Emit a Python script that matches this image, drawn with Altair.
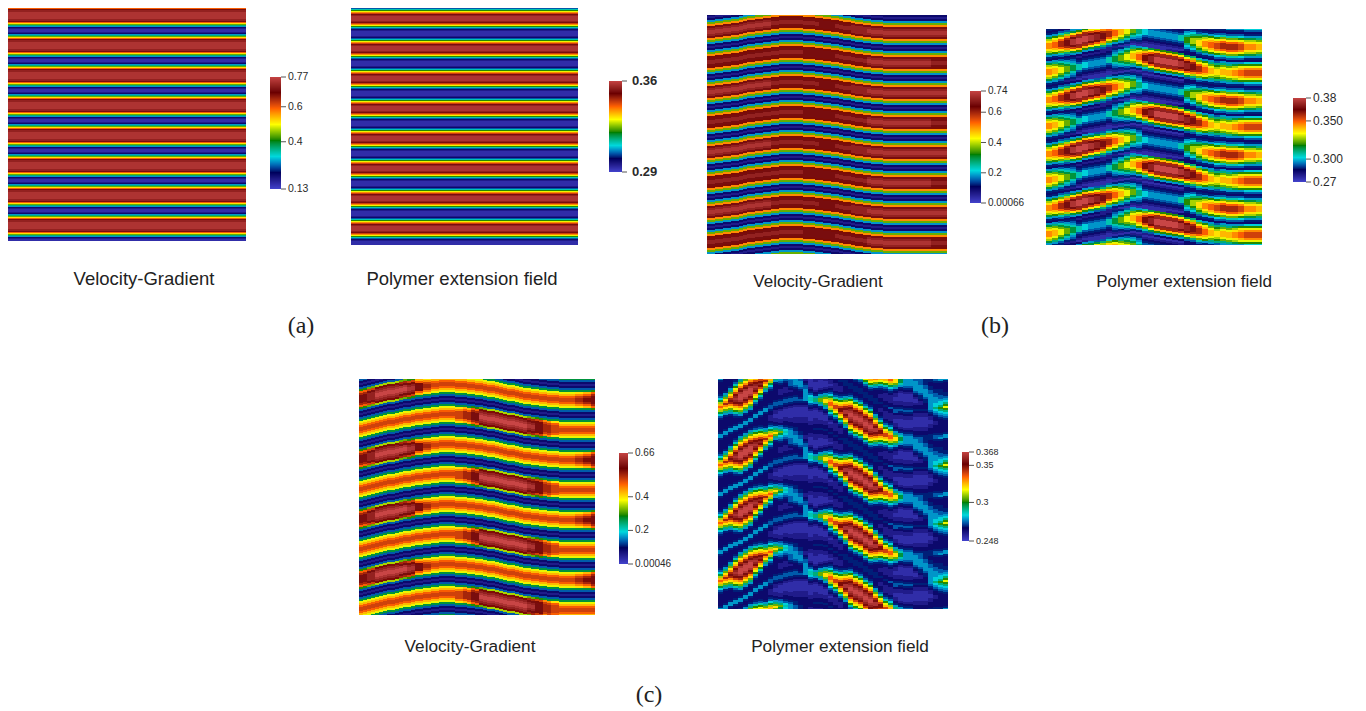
import altair as alt
import pandas as pd

alt.data_transformers.disable_max_rows()

LETTERS = "abcdefghijklmnopqrstuvwxyz"
STOPS = ["#4040c8", "#00005c", "#00d8dc", "#008000", "#ffff00", "#ff6100", "#6b0000", "#c84545"]

# ---- captions and colour-bar labels
caption_vel = "Velocity-Gradient"
caption_pol = "Polymer extension field"
sub_labels = ["(a)", "(b)", "(c)"]

bar_a_vel_vals = [0.77, 0.6, 0.4, 0.13]
bar_a_vel_txt = ["0.77", "0.6", "0.4", "0.13"]
bar_a_pol_vals = [0.36, 0.29]
bar_a_pol_txt = ["0.36", "0.29"]
bar_b_vel_vals = [0.74, 0.6, 0.4, 0.2, 0.00066]
bar_b_vel_txt = ["0.74", "0.6", "0.4", "0.2", "0.00066"]
bar_b_pol_vals = [0.38, 0.35, 0.30, 0.27]
bar_b_pol_txt = ["0.38", "0.350", "0.300", "0.27"]
bar_c_vel_vals = [0.66, 0.4, 0.2, 0.00046]
bar_c_vel_txt = ["0.66", "0.4", "0.2", "0.00046"]
bar_c_pol_vals = [0.368, 0.35, 0.3, 0.248]
bar_c_pol_txt = ["0.368", "0.35", "0.3", "0.248"]

# ---- field levels, a = lowest ... z = highest
vel_a_profile = "bbcdgjmpswxxyyyyyyyxxwspmjgdcb"
pol_a_profile = "bbbcdfilortwxyyyyyxwtrolifdcbb"

vel_b_shift = [-1,-1,-2,-2,-3,-3,-4,-4,-5,-6,-7,-7,-8,-8,-9,-9,-10,-10,-11,-11,-11,-11,-11,-11,
               -10,-10,-10,-9,-9,-8,-8,-7,-7,-6,-5,-5,-4,-3,-3,-2,-2,-1,-1,-1,
               0,0,0,0,0,0,0,0,0,0,0,0,0,0,0,0]
AB5, AB6, AB7 = "wwwwvvvvvwwwwww", "xxxxwwwwwxxxxxx", "yyyyxxxwxxyyyyy"
BB5, BB6, BB7 = "vvvvvvvvvvwwwwv", "wwwwwwwwwwxxxxw", "xxxxxxwwxxyyyyx"
vel_b_rows = [
    "c"*15, "d"*15, "g"*15, "m"*15, "r"*15,
    AB5, AB6, AB7, AB7, AB6, AB5,
    "r"*15, "m"*15, "g"*15, "d"*15,
    "c"*15, "d"*15, "g"*15, "m"*15, "r"*15,
    BB5, BB6, BB7, BB7, BB6, BB5,
    "r"*15, "m"*15, "g"*15, "d"*15,
]

vel_c_shift = [-1,-2,-3,-4,-5,-6,-7,-8,-8,-9,-10,-11,-11,-12,-13,-13,-14,-14,-15,-15,-16,-16,-16,-16,
               -15,-15,-15,-14,-14,-13,-13,-12,-11,-11,-10,-9,-8,-7,-7,-6,-5,-4,-4,-3,-3,-2,-2,-1,-1,-1,
               0,0,0,0,0,0,0,0,0]
A3, A4, A5, A6, A7 = ("lmnnnmlkkk" + "k"*15 + "kkkkl", "stvvvutqpo" + "o"*15 + "oopqs",
                      "uwxxxwvsrq" + "q"*15 + "qqrsu", "wxyyyyxvts" + "s"*15 + "sstuw",
                      "wxzzzzywut" + "t"*15 + "ttuvw")
B3, B4, B5, B6, B7 = ("k"*12 + "kklmnnnnnmlkk" + "k"*5, "o"*12 + "pqsvvvvvvutrp" + "o"*5,
                      "q"*12 + "rsuxxxxxxwvts" + "q"*5, "s"*12 + "tuwyyyyyyxwut" + "s"*5,
                      "t"*12 + "tuwzzzzzzywut" + "t"*5)
vel_c_rows = [
    "c"*30, "d"*30, "f"*30, A3, A4, A5, A6, A7, A7, A6, A5, A4, A3, "f"*30, "d"*30,
    "c"*30, "d"*30, "f"*30, B3, B4, B5, B6, B7, B7, B6, B5, B4, B3, "f"*30, "d"*30,
]

pol_b_shift = [-1,-2,-3,-4,-5,-6,-8,-9,-10,-11,-13,-14,-15,-16,-17,-16,-15,-14,-13,-12,-11,-10,-9,-7,
               -6,-4,-3,-2,-1,-1,0,0,0,0,0,0]
P1 = "rsuwyzzyxwusqomjhgggggilnprstuuutrrq"
P2 = "pqsuwxxwvusqomkh" + "fffffff" + "jlnpqrsssrppo"
P3 = "noprtuutsrpomkig" + "eeeeeee" + "hjlnoo" + "ppp" + "onnm"
P4 = "klmnpqqponmljigf" + "ddddddd" + "ghjkll" + "mmm" + "lkkj"
P5 = "ggijkllkkjiggfee" + "ccccccc" + "effggh" + "iii" + "hggg"
P6 = "eeffggggfffeee" + "cc" + "bbbbbbb" + "ddeeef" + "fff" + "feee"
Q1 = "rqomkihggg" + "ikmoqsvx" + "zzzz" + "yxwusq" + "pqqrsttt"
Q2 = "pomki" + "ffffff" + "ikmoqtv" + "xxxx" + "wvusqo" + "noopqrrr"
Q3 = "nmkig" + "eeeeee" + "gikmoqs" + "uuuu" + "tsrpom" + "lmmnoooo"
Q4 = "kjigf" + "dddddd" + "fgijlmo" + "qqqq" + "ponmlj" + "jjjkllll"
Q5 = "ggfee" + "cccccc" + "eefggik" + "llll" + "kkjigg" + "fgggghhh"
Q6 = "eeecc" + "bbbbbb" + "cc" + "eeeff" + "gggg" + "gfffee" + "eeeeefff"
V1 = "ddddddddd" + "ccc" + "bbbbbbbb" + "cc" + "dddddddddddddd"
V2 = "dddddd" + "c" + "bbbbbbbbb" + "cc" + "dddddddddddddddddd"
pol_b_rows = [V1, Q5, Q4, Q3, Q2, Q1, Q1, Q1, Q2, Q3, Q4, Q5, Q6,
              V2, P6, P5, P4, P3, P2, P1, P1, P1, P2, P3, P4, P5, P6]

pol_c_shift = [0,-3,-6,-8,-10,-13,-16,-20,-23,-26,-29,-32,-33,-35,-36,-37,-37,-37,-37,-36,-36,-35,
               -32,-29,-26,-24,-21,-18,-16,-12,-9,-6,-4,-1,1,3,3,4,4,3,3,3,2,1,1,0]


def s1(half):
    return "gedd" + half[:0:-1] + half + "ddeg"


def s2(half, mid):
    return half + mid + half[::-1]


pol_c_cols = [
    s1("sqnkhfedddd"), s1("urpmjgedddd"), s1("wurpmjgeddd"), s1("yxvtqolifed"),
    s1("zzywurpmjge"), s1("zzywurpmjge"), s1("zzywurpmjge"), s1("yxvtqolifed"),
    s1("xvtqolifedd"), s1("urpmjgedddd"),
    "feddcccdefhknqsqnkhfeddddddef",
    "fedccbbccdegjmp" + "mjge" + "dddddddd" + "ef",
    "fedcbbbbccdfgjm" + "khgfeddcccddef",
    "fedcbbbbccddefh" + "ihgfeddcccddef",
    "fedcbbbbbccddef" + "ggggfffedcddef",
    "fedcbbbbbcccdde" + "effggggfedddef",
    "fedcbbbbbcccddd" + "deeffgggfedddef"[:14],
    "gedcbbbbbcccddd" + "dddccdeffgggggg"[:14],
    "ihfedcbbbbbccdd" + "ddccbbbbcdefhi",
    s2("jgedcbbbbcc", "cddeddc"), s2("mjgedcbbbbc", "cddeddc"), s2("pmjgedcbbbc", "cddeddc"),
    s2("sqnkhfedcbc", "cddeddc"), s2("tqolifedccc", "cddeddc"), s2("vtqolifedcc", "cddeddc"),
    s2("ywurpmjgedd", "ddeeedd"), s2("zyxvtqolife", "ddeeedd"), s2("zyxvtqolife", "ddeeedd"),
    s2("zyxvtqolife", "ddeeedd"), s2("zyxvtqolife", "ddeeedd"), s2("zyxvtqolife", "ddeeedd"),
    s2("ywurpmjgedd", "ddeeedd"), s2("vtqolifeddc", "cddeddc"), s2("tqolifedccc", "cddeddc"),
    s2("sqnkhfedccc", "cddfddc"), s2("pmjgedccbbc", "cdeffdc"), s2("kigedcbbbbc", "cdefedc"),
    s2("ggfedcbbbbc", "cdefedc"), s2("ggfedcbbbbc", "cdefedc"),
    "gggggfedcbbcdde" + "dccbbbbbccddef",
    "ffggggfeedccdde" + "dccbbbbbccddef",
    "eeffggggfeeddde" + "dccbbbbbccddee",
    "eddeeffgggggggg" + "fedccbbccdddee",
    "fedddeeffggghhj" + "hgfeddccddddef",
    "gedddeeeffghhjl" + "jhgfedddddddef",
    "gedddddeefghjlo" + "ljhgfeddddddeg",
]
pol_c_rows = ["".join(c[r] for c in pol_c_cols) for r in range(29)]

OX, OY = 8, 8  # page margin


def real(ch, vmin, vmax):
    return vmin + LETTERS.index(ch) / 25 * (vmax - vmin)


def colour_scale(vmin, vmax):
    return alt.Scale(domain=[vmin + i / 7 * (vmax - vmin) for i in range(8)], range=STOPS)


def field_layer(df, px, py, w, h, vmin, vmax):
    return alt.Chart(df).mark_rect().encode(
        x=alt.X("x:Q", axis=None, scale=alt.Scale(domain=[0, w], range=[px - OX, px - OX + w])),
        x2="x2:Q",
        y=alt.Y("y:Q", axis=None, scale=alt.Scale(domain=[0, h], range=[py - OY, py - OY + h])),
        y2="y2:Q",
        color=alt.Color("v:Q", legend=None, scale=colour_scale(vmin, vmax)),
    )


def stripes(profile, start, px, py, w, h, vmin, vmax):
    rec = []
    for r in range(h):
        rec.append({"x": 0, "x2": w, "y": r, "y2": r + 1,
                    "v": round(real(profile[(r + start) % len(profile)], vmin, vmax), 5)})
    return field_layer(pd.DataFrame(rec), px, py, w, h, vmin, vmax)


def sheared(rows, shift, cw, rh, base, px, py, h, vmin, vmax):
    n = len(rows)
    ncoarse = len(rows[0])
    w = cw * len(shift)
    rec = []
    for c, s in enumerate(shift):
        cc = min(c * ncoarse // len(shift), ncoarse - 1)
        for r in range(-3 * n, h // rh + 3 * n):
            y0 = base + s + r * rh
            y1 = y0 + rh
            if y1 <= 0 or y0 >= h:
                continue
            rec.append({"x": c * cw, "x2": (c + 1) * cw, "y": max(y0, 0), "y2": min(y1, h),
                        "v": round(real(rows[r % n][cc], vmin, vmax), 5)})
    return field_layer(pd.DataFrame(rec), px, py, w, h, vmin, vmax)


def colourbar(x0, x1, top, bottom, vmin, vmax, vals, txt, size, weight="normal", gap=7):
    n = bottom - top
    step = (vmax - vmin) / n
    cells = pd.DataFrame({
        "a": [vmin + i * step for i in range(n)],
        "b": [vmin + (i + 1) * step for i in range(n)],
    })
    yscale = alt.Scale(domain=[vmin, vmax], range=[bottom - OY, top - OY], nice=False, zero=False)
    bar = alt.Chart(cells).mark_rect().encode(
        x=alt.value(x0 - OX), x2=alt.value(x1 - OX),
        y=alt.Y("a:Q", axis=None, scale=yscale), y2="b:Q",
        color=alt.Color("a:Q", legend=None, scale=colour_scale(vmin, vmax)),
    )
    tk = pd.DataFrame({"v": vals, "t": txt})
    ticks = alt.Chart(tk).mark_rule(color="#555555", strokeWidth=1).encode(
        x=alt.value(x1 - OX), x2=alt.value(x1 - OX + 5),
        y=alt.Y("v:Q", axis=None, scale=yscale),
    )
    labels = alt.Chart(tk).mark_text(align="left", baseline="middle", font="Liberation Sans",
                                     fontSize=size, fontWeight=weight, color="#2a2a2a").encode(
        x=alt.value(x1 - OX + gap),
        y=alt.Y("v:Q", axis=None, scale=yscale),
        text="t:N",
    )
    return [bar, ticks, labels]


def caption(s, cx, cy, size=17, font="Liberation Sans"):
    return alt.Chart(pd.DataFrame({"t": [s]})).mark_text(
        align="center", baseline="middle", font=font, fontSize=size, color="#222222"
    ).encode(x=alt.value(cx - OX), y=alt.value(cy - OY), text="t:N")


layers = [
    stripes(vel_a_profile, 2, 7, 2, 239, 239, 0.13, 0.77),
    stripes(pol_a_profile, 2, 351, 5, 227, 240, 0.29, 0.36),
    sheared(vel_b_rows, vel_b_shift, 4, 2, 2, 707, 15, 239, 0.00066, 0.74),
    sheared(pol_b_rows, pol_b_shift, 6, 2, 31, 1046, 29, 216, 0.27, 0.38),
    sheared(vel_c_rows, vel_c_shift, 4, 2, 5, 359, 379, 236, 0.00046, 0.66),
    sheared(pol_c_rows, pol_c_shift, 5, 2, -1, 718, 379, 230, 0.248, 0.368),
]
layers += colourbar(270, 281, 77, 189, 0.13, 0.77, bar_a_vel_vals, bar_a_vel_txt, 10.5)
layers += colourbar(609, 622, 81, 172, 0.29, 0.36, bar_a_pol_vals, bar_a_pol_txt, 13, "bold", 10)
layers += colourbar(970, 981, 91, 203, 0.00066, 0.74, bar_b_vel_vals, bar_b_vel_txt, 10)
layers += colourbar(1293, 1306, 98, 182, 0.27, 0.38, bar_b_pol_vals, bar_b_pol_txt, 12)
layers += colourbar(619, 628, 453, 564, 0.00046, 0.66, bar_c_vel_vals, bar_c_vel_txt, 10)
layers += colourbar(962, 969, 452, 541, 0.248, 0.368, bar_c_pol_vals, bar_c_pol_txt, 9)
layers += [
    caption(caption_vel, 144, 279, 18.5), caption(caption_pol, 462, 279, 18.5),
    caption(caption_vel, 818, 282), caption(caption_pol, 1184, 282),
    caption(caption_vel, 470, 647, 17.2), caption(caption_pol, 840, 647, 17.2),
    caption(sub_labels[0], 301, 326, 24, "Liberation Serif"),
    caption(sub_labels[1], 995, 326, 24, "Liberation Serif"),
    caption(sub_labels[2], 649, 695, 24, "Liberation Serif"),
]

chart = alt.layer(*layers).resolve_scale(x="independent", y="independent", color="independent").properties(
    width=1350, height=702, padding=0, autosize=alt.AutoSizeParams(type="none")
).configure_view(strokeWidth=0)

chart.save("out.html", embed_options={"renderer": "svg", "actions": False})
